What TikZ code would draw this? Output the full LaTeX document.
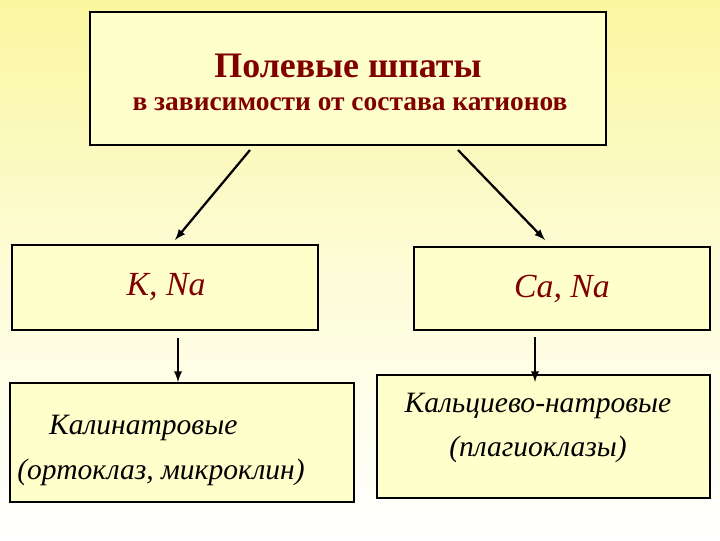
\documentclass[tikz,border=0pt]{standalone}
\usepackage{fontspec}
\setmainfont{Liberation Serif}
\begin{document}
\begin{tikzpicture}[x={(0.025cm,0)},y={(0,-0.025cm)},
 box/.style={draw=black,line width=1.3pt,fill=boxfill,inner sep=0},
 arr/.style={-latex,line width=1.6pt}]
\definecolor{boxfill}{RGB}{255,255,204}
\definecolor{tred}{RGB}{128,0,0}
\shade[top color={rgb,255:red,250;green,246;blue,160},bottom color=white,middle color={rgb,255:red,253;green,252;blue,215}] (0,0) rectangle (720,540);
\useasboundingbox (0,0) rectangle (720,540);
\node[box,minimum width=516*0.025cm,minimum height=133*0.025cm] (top) at (348,78.5) {};
\node[text=tred,font=\bfseries\fontsize{25.5}{30}\selectfont] (t1) at (348,66) {Полевые шпаты};
\node[text=tred,font=\bfseries\fontsize{19.5}{23}\selectfont] (t2) at (350,104) {в зависимости от состава катионов};
\node[box,minimum width=306*0.025cm,minimum height=85*0.025cm] (kn) at (165,287.5) {};
\node[text=tred,font=\itshape\fontsize{24}{28}\selectfont] (knt) at (166,287.5) {K, Na};
\node[box,minimum width=296*0.025cm,minimum height=83*0.025cm,text=tred,font=\itshape\fontsize{24}{28}\selectfont] (cn) at (562,288.5) {Ca, Na};
\node[box,minimum width=344*0.025cm,minimum height=119*0.025cm] (lb) at (182,442.5) {};
\node[font=\itshape\fontsize{21}{32}\selectfont,align=center] (lt) at (161,450) {\hspace*{-1.2em}Калинатровые\\(ортоклаз, микроклин)};
\node[box,minimum width=333*0.025cm,minimum height=123*0.025cm] (rb) at (543.5,436.5) {};
\node[font=\itshape\fontsize{21}{31}\selectfont,align=center] (rt) at (538,428) {Кальциево-натровые\\(плагиоклазы)};
\coordinate (a1) at (250,150); \coordinate (a2) at (458,150);
\coordinate (b1) at (175,240); \coordinate (b2) at (545,240);
\draw[arr] (a1) -- (b1);
\draw[arr] (a2) -- (b2);
\coordinate (c1) at (178,338); \coordinate (c2) at (535,337);
\draw[arr] (c1) -- (lb.north -| c1);
\draw[arr] (c2) -- (535,382);
\end{tikzpicture}
\end{document}
